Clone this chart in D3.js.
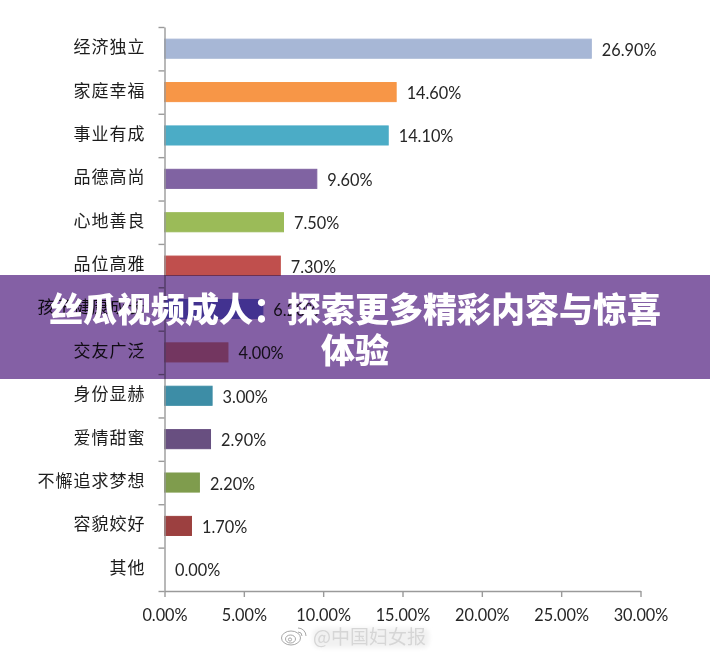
<!DOCTYPE html>
<html>
<head>
<meta charset="utf-8">
<script src="https://d3js.org/d3.v7.min.js"></script>
<style>
  html, body { margin: 0; padding: 0; background: #fff; }
  text.cat { font-family: "Noto Sans CJK SC", sans-serif; font-size: 17px; letter-spacing: 1px; fill: #1c1c1c; }
  text.val { font-family: Lato, "Open Sans", sans-serif; font-size: 16.3px; fill: #262626; }
  text.banner { font-family: "Noto Sans CJK SC", sans-serif; font-size: 34px; font-weight: 900; fill: #fff; }
  text.mark { font-family: "Noto Sans CJK SC", sans-serif; font-size: 19px; fill: #d6d6d6; }
</style>
</head>
<body>
<svg id="chart" width="710" height="655"></svg>
<script>
var categories = ["经济独立", "家庭幸福", "事业有成", "品德高尚", "心地善良", "品位高雅", "孩子健康成长", "交友广泛", "身份显赫", "爱情甜蜜", "不懈追求梦想", "容貌姣好", "其他"];
var values = [26.9, 14.6, 14.1, 9.6, 7.5, 7.3, 6.2, 4.0, 3.0, 2.9, 2.2, 1.7, 0];
var barColors = ["#a7b7d6", "#f79646", "#4bacc6", "#8064a2", "#9bbb59", "#c0504d", "#8085de", "#de8f94", "#3d8da6", "#674f80", "#7f9c4d", "#9c413f", "#8064a2"];
var xTicks = [0, 5, 10, 15, 20, 25, 30];
var bannerLines = ["丝瓜视频成人：探索更多精彩内容与惊喜", "体验"];

var svg = d3.select("#chart");

var defs = svg.append("defs");
defs.append("filter").attr("id", "soft")
  .append("feGaussianBlur").attr("stdDeviation", 0.35);
defs.append("filter").attr("id", "glow")
  .attr("x", "-10%").attr("y", "-30%").attr("width", "120%").attr("height", "160%")
  .append("feGaussianBlur").attr("stdDeviation", 2);

var x = d3.scaleLinear().domain([0, 30]).range([164.5, 640.5]);
var y = d3.scaleBand().domain(categories).range([27, 591]).paddingInner(0.56).paddingOuter(0.28);
var yEdge = d3.scaleLinear().domain([0, categories.length]).range([27, 591]);

var plot = svg.append("g").attr("filter", "url(#soft)");

plot.selectAll("rect.bar")
  .data(values)
  .enter().append("rect")
    .attr("class", "bar")
    .attr("x", x(0))
    .attr("y", function(d, i) { return y(categories[i]); })
    .attr("width", function(d) { return x(d) - x(0); })
    .attr("height", y.bandwidth())
    .attr("fill", function(d, i) { return barColors[i]; })
    .attr("stroke", function(d, i) { return d > 0 ? barColors[i] : "none"; })
    .attr("stroke-width", 1);

// ticks sit between the categories, so the edges get their own axis
var yAxis = plot.append("g")
  .attr("transform", "translate(" + x(0) + ",0)")
  .call(d3.axisLeft(yEdge).tickValues(d3.range(0, categories.length + 1)).tickSize(6).tickFormat("").tickSizeOuter(0));

var xAxis = plot.append("g")
  .attr("transform", "translate(0,591)")
  .call(d3.axisBottom(x).tickValues(xTicks).tickSize(6).tickSizeOuter(0).tickFormat(function(d) { return d.toFixed(2) + "%"; }));

[yAxis, xAxis].forEach(function(a) {
  a.selectAll("path, line").attr("stroke", "#9a9a9a").attr("stroke-width", 1.4);
});
xAxis.selectAll("text")
  .attr("class", "val")
  .attr("y", 18.5)
  .attr("dy", "0.71em");

plot.selectAll("text.cat")
  .data(categories)
  .enter().append("text")
    .attr("class", "cat")
    .attr("x", 145.5)
    .attr("y", function(d) { return y(d) + y.bandwidth() / 2 - 1.5; })
    .attr("dy", "0.35em")
    .attr("text-anchor", "end")
    .text(function(d) { return d; });

plot.selectAll("text.bar-val")
  .data(values)
  .enter().append("text")
    .attr("class", "val bar-val")
    .attr("x", function(d) { return x(d) + 10.5; })
    .attr("y", function(d, i) { return y(categories[i]) + y.bandwidth() / 2 + 1.3; })
    .attr("dy", "0.35em")
    .text(function(d) { return d.toFixed(2) + "%"; });

// watermark at the bottom
var mark = svg.append("g");
mark.append("rect")
  .attr("x", 313).attr("y", 628).attr("width", 116).attr("height", 20).attr("rx", 6)
  .attr("fill", "#f1f1f1").attr("filter", "url(#glow)");
mark.append("text").attr("class", "mark").attr("x", 313).attr("y", 644).text("@中国妇女报");
var weibo = mark.append("g").attr("fill", "none").attr("stroke", "#9d9d9d").attr("stroke-width", 0.9);
weibo.append("ellipse").attr("cx", 291).attr("cy", 638).attr("rx", 9.5).attr("ry", 7);
weibo.append("ellipse").attr("cx", 290.5).attr("cy", 639).attr("rx", 5).attr("ry", 4);
weibo.append("circle").attr("cx", 290).attr("cy", 639.5).attr("r", 1.6);
weibo.append("path").attr("d", "M298 628a8 8 0 0 1 8 8");
weibo.append("path").attr("d", "M298 632a4 4 0 0 1 4 4");

// title band, multiplied over the chart so the marks still show through
svg.append("rect")
  .attr("x", 0).attr("y", 275).attr("width", 710).attr("height", 104)
  .attr("fill", "#8460a5")
  .style("mix-blend-mode", "multiply");

svg.selectAll("text.banner")
  .data(bannerLines)
  .enter().append("text")
    .attr("class", "banner")
    .attr("x", 355)
    .attr("y", function(d, i) { return 322 + i * 41; })
    .attr("text-anchor", "middle")
    .text(function(d) { return d; });
</script>
</body>
</html>
